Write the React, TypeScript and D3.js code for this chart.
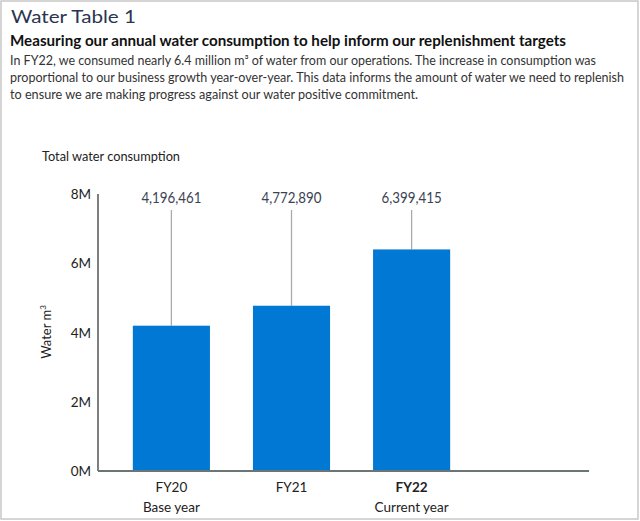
import React from "react";
import * as d3 from "d3";

const categories = ["FY20", "FY21", "FY22"];
const subLabels = ["Base year", "", "Current year"];
const values = [4196461, 4772890, 6399415];
const yTicks = [0, 2000000, 4000000, 6000000, 8000000];
const bodyLines = [
  "In FY22, we consumed nearly 6.4 million m\u00b3 of water from our operations. The increase in consumption was",
  "proportional to our business growth year-over-year. This data informs the amount of water we need to replenish",
  "to ensure we are making progress against our water positive commitment.",
];
const bodyWidths = [586, 614, 408];

const W = 640;
const H = 521;
const FONT = "Lato, 'Open Sans', sans-serif";

export default function App() {
  const x0 = 98;
  const xEnd = 589;
  const x = d3
    .scaleBand<string>()
    .domain(categories)
    .range([x0, 485])
    .paddingInner(0.358)
    .paddingOuter(0.29);
  const y = d3.scaleLinear().domain([0, 8000000]).range([471, 194]);
  const fmtTick = (v: number) => `${v / 1000000}M`;
  const fmtVal = d3.format(",");
  const blue = "#0078d4";

  return (
    <div style={{ position: "absolute", left: 0, top: 0 }}>
      <svg width={W} height={H} style={{ display: "block" }} fontFamily={FONT}>
        <rect x={0} y={0} width={W} height={H} fill="#fff" />
        <rect x={1} y={1} width={637} height={518} fill="none" stroke="#c8c8c8" strokeWidth={1.5} />
        <text x={11} y={23} fontSize={18} fill="#2a3550" textLength={125} lengthAdjust="spacingAndGlyphs">
          Water Table 1
        </text>
        <text x={10} y={46} fontSize={15.5} fontWeight={700} fill="#111" textLength={556} lengthAdjust="spacingAndGlyphs">
          Measuring our annual water consumption to help inform our replenishment targets
        </text>
        {bodyLines.map((l, i) => (
          <text key={i} x={10} y={65 + i * 17} fontSize={12.8} fill="#333" textLength={bodyWidths[i]} lengthAdjust="spacingAndGlyphs">
            {l}
          </text>
        ))}
        <text x={42} y={161} fontSize={13} fill="#222" textLength={138} lengthAdjust="spacingAndGlyphs">
          Total water consumption
        </text>

        {/* y axis title */}
        <text transform={`translate(51,332) rotate(-90)`} textAnchor="middle" fontSize={13} fill="#222">
          Water m<tspan fontSize={8} dy={-5}>3</tspan>
        </text>

        {/* y ticks */}
        {yTicks.map((t) => (
          <text key={t} x={91} y={y(t) + 5} textAnchor="end" fontSize={13.5} fill="#222">
            {fmtTick(t)}
          </text>
        ))}

        {/* leaders + labels */}
        {categories.map((c, i) => {
          const cx = (x(c) as number) + x.bandwidth() / 2;
          return (
            <g key={c}>
              <line x1={cx} x2={cx} y1={210} y2={y(values[i])} stroke="#aaa" strokeWidth={1.3} />
              <text
                x={cx - 30}
                y={203}
                fontSize={15.5}
                fill="#3b4254"
                textLength={60}
                lengthAdjust="spacingAndGlyphs"
              >
                {fmtVal(values[i])}
              </text>
            </g>
          );
        })}

        {/* bars */}
        {categories.map((c, i) => (
          <rect
            key={c}
            x={x(c)}
            y={y(values[i])}
            width={x.bandwidth()}
            height={y(0) - y(values[i])}
            fill={blue}
          />
        ))}

        {/* axes lines */}
        <line x1={x0} x2={x0} y1={194} y2={471} stroke="#555" strokeWidth={1.5} />
        <line x1={x0} x2={xEnd} y1={471} y2={471} stroke="#6b7576" strokeWidth={2} />

        {/* x labels */}
        {categories.map((c, i) => {
          const cx = (x(c) as number) + x.bandwidth() / 2;
          const bold = i === categories.length - 1;
          return (
            <g key={c}>
              <text x={cx} y={492} textAnchor="middle" fontSize={13.5} fontWeight={bold ? 700 : 400} fill="#222">
                {c}
              </text>
              {subLabels[i] && (
                <text x={cx} y={512} textAnchor="middle" fontSize={13.5} fill="#222">
                  {subLabels[i]}
                </text>
              )}
            </g>
          );
        })}
      </svg>
    </div>
  );
}
